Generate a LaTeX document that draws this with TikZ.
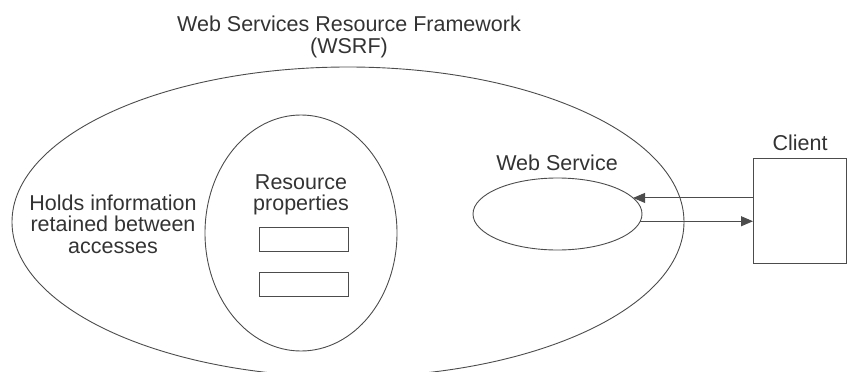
\documentclass[tikz,border=0pt]{standalone}
\usepackage{fontspec}
\setmainfont{Liberation Sans}
\usetikzlibrary{shapes.geometric, arrows.meta}

\begin{document}
\begin{tikzpicture}[x=1pt, y=-1pt, black!70, line width=0.9pt,
	lbl/.style={align=center, inner sep=0pt, text=black!80, font=\fontsize{21.5}{21.5}\selectfont},
	oval/.style={ellipse, draw, inner sep=0pt, outer sep=0pt},
	propbox/.style={rectangle, draw, minimum width=89pt, minimum height=24pt, inner sep=0pt, outer sep=0pt},
	conn/.style={-{Triangle[length=12pt, width=10pt]}}]
	\useasboundingbox (0,0) rectangle (849,372);
	\node[oval, minimum width=672pt, minimum height=310pt] (wsrf) at (348,222) {};
	\node[oval, minimum width=192pt, minimum height=236pt] (store) at (301,233) {};
	\node[oval, minimum width=169pt, minimum height=72pt] (ws) at (557.5,214) {};
	\node[rectangle, draw, minimum width=93pt, minimum height=105pt, inner sep=0pt, outer sep=0pt] (client) at (799.5,210.5) {};
	\node[propbox] (prop1) at (303.5,239) {};
	\node[propbox] (prop2) at (303.5,284) {};
	\node[lbl] (title) at (349,37) {Web Services Resource Framework\\(WSRF)};
	\node[lbl] (holds) at (113,224) {Holds information\\retained between\\accesses};
	\node[lbl] (props) at (301,195) {Resource\\properties};
	\node[lbl, anchor=base] (wslabel) at (557,170) {Web Service};
	\node[lbl, anchor=base] (clientlabel) at (800,150) {Client};
	\draw[conn] (ws.12 -| client.west) -- (ws.12);
	\draw[conn] (ws.-5) -- (ws.-5 -| client.west);
\end{tikzpicture}
\end{document}
